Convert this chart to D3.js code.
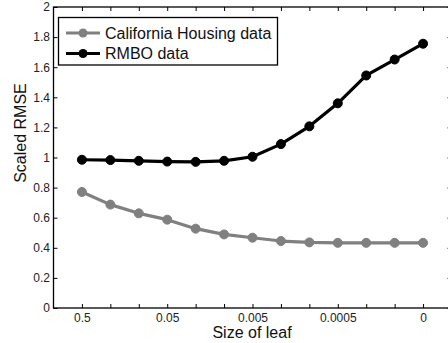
<!DOCTYPE html>
<html>
<head>
<meta charset="utf-8">
<script src="https://cdn.jsdelivr.net/npm/d3@7"></script>
<style>
  body { margin: 0; background: #fff; }
  text { font-family: "Liberation Sans", Arial, sans-serif; }
</style>
</head>
<body>
<svg id="plot"></svg>
<script>
// data
const xIndex = [1, 2, 3, 4, 5, 6, 7, 8, 9, 10, 11, 12, 13];
const xTickLabels = ["0.5", "", "", "0.05", "", "", "0.005", "", "", "0.0005", "", "", "0"];
const yTicks = [0, 0.2, 0.4, 0.6, 0.8, 1, 1.2, 1.4, 1.6, 1.8, 2];
const californiaRmse = [0.771, 0.687, 0.629, 0.587, 0.527, 0.489, 0.467, 0.445, 0.436, 0.433, 0.433, 0.433, 0.433];
const rmboRmse = [0.985, 0.983, 0.978, 0.973, 0.971, 0.978, 1.005, 1.089, 1.207, 1.36, 1.545, 1.651, 1.756];
const seriesNames = ["California Housing data", "RMBO data"];
const seriesColors = ["#808080", "#000000"];

let width = 448;
let height = 343;
let margin = { top: 7, bottom: 35, left: 53.5, right: -3.5 };

let svg = d3.select('#plot')
    .attr('width', width)
    .attr('height', height)
    .style('background', '#FFFFFF');

let xScale = d3.scaleLinear()
    .domain([0, 14])
    .range([margin.left, width - margin.right]);

let yScale = d3.scaleLinear()
    .domain([0, 2])
    .range([height - margin.bottom, margin.top]);

const x0 = xScale.range()[0], x1 = xScale.range()[1];
const y0 = yScale.range()[0], y1 = yScale.range()[1];

// frame
svg.append('rect')
    .attr('x', x0).attr('y', y1)
    .attr('width', x1 - x0).attr('height', y0 - y1)
    .attr('fill', 'none')
    .attr('stroke', '#000')
    .attr('stroke-width', 1.3);

// inward ticks (matlab style)
let xAxisB = svg.append('g')
    .attr('transform', `translate(0, ${y0})`)
    .call(d3.axisBottom(xScale).tickValues(xIndex).tickSizeInner(-4).tickSizeOuter(0)
        .tickPadding(5.5).tickFormat((d, i) => xTickLabels[i]));
let xAxisT = svg.append('g')
    .attr('transform', `translate(0, ${y1})`)
    .call(d3.axisTop(xScale).tickValues(xIndex).tickSizeInner(-4).tickSizeOuter(0).tickFormat(''));
let yAxisL = svg.append('g')
    .attr('transform', `translate(${x0}, 0)`)
    .call(d3.axisLeft(yScale).tickValues(yTicks).tickSizeInner(-4).tickSizeOuter(0)
        .tickPadding(3.5).tickFormat(d => String(+d.toFixed(1))));
let yAxisR = svg.append('g')
    .attr('transform', `translate(${x1}, 0)`)
    .call(d3.axisRight(yScale).tickValues(yTicks).tickSizeInner(-4).tickSizeOuter(0).tickFormat(''));

[xAxisB, xAxisT, yAxisL, yAxisR].forEach(a => {
    a.select('.domain').remove();
    a.selectAll('.tick line').attr('stroke', '#000');
    a.selectAll('text')
        .style('font-size', '12px')
        .style('font-family', '"Liberation Sans", Arial, sans-serif')
        .attr('fill', '#222');
});

// series
const line = d3.line()
    .x((d, i) => xScale(xIndex[i]))
    .y(d => yScale(d));

[californiaRmse, rmboRmse].forEach((vals, k) => {
    svg.append('path')
        .datum(vals)
        .attr('d', line)
        .attr('fill', 'none')
        .attr('stroke', seriesColors[k])
        .attr('stroke-width', 3.2)
        .attr('stroke-linejoin', 'round');

    svg.selectAll(null)
        .data(vals)
        .enter()
        .append('circle')
        .attr('cx', (d, i) => xScale(xIndex[i]))
        .attr('cy', d => yScale(d))
        .attr('r', 4.5)
        .attr('fill', seriesColors[k])
        .attr('stroke', seriesColors[k])
        .attr('stroke-width', 1);
});

// axis titles
svg.append('text')
    .attr('x', 252)
    .attr('y', 338)
    .attr('text-anchor', 'middle')
    .style('font-size', '16px')
    .attr('fill', '#111')
    .text('Size of leaf');

svg.append('text')
    .attr('transform', 'translate(26, 133) rotate(-90)')
    .attr('text-anchor', 'middle')
    .style('font-size', '16px')
    .attr('fill', '#111')
    .text('Scaled RMSE');

// legend
let legend = svg.append('g')
    .attr('class', 'legend')
    .attr('transform', 'translate(58.5, 17.5)');

legend.append('rect')
    .attr('x', 0).attr('y', 0)
    .attr('width', 219).attr('height', 47.5)
    .attr('fill', '#fff')
    .attr('stroke', '#000')
    .attr('stroke-width', 1.3);

seriesNames.forEach((name, k) => {
    let cy = 15.5 + k * 20.5;
    legend.append('line')
        .attr('x1', 7.5).attr('x2', 41.5)
        .attr('y1', cy).attr('y2', cy)
        .attr('stroke', seriesColors[k])
        .attr('stroke-width', 3.2);
    legend.append('circle')
        .attr('cx', 24.5).attr('cy', cy)
        .attr('r', 4.5)
        .attr('fill', seriesColors[k]);
    legend.append('text')
        .attr('x', 46.5)
        .attr('y', cy + 5.5)
        .style('font-size', '16px')
        .attr('fill', '#111')
        .text(name);
});
</script>
</body>
</html>
